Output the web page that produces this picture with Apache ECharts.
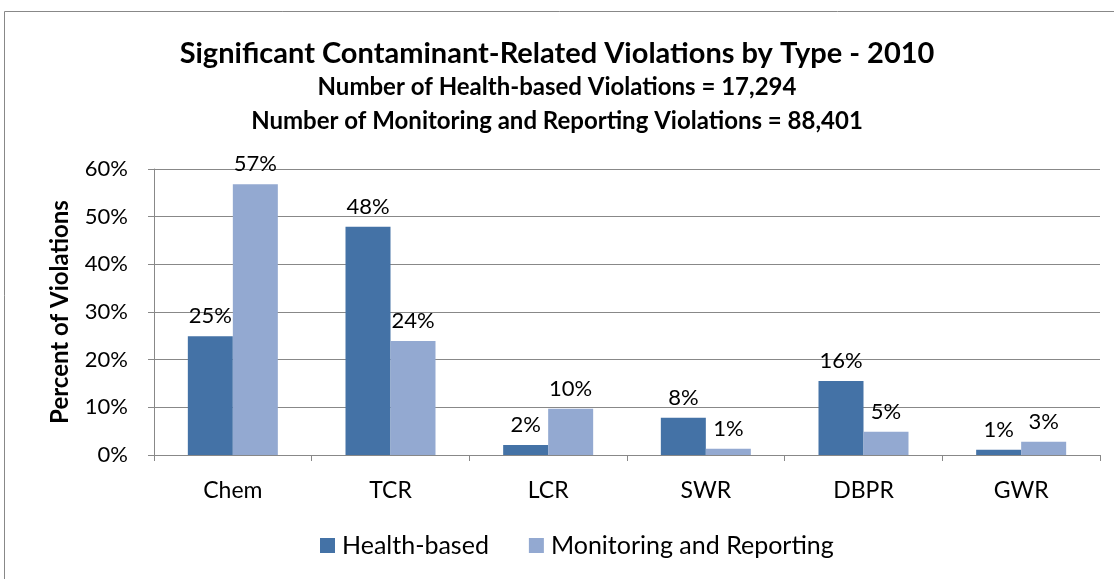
<!DOCTYPE html>
<html>
<head>
<meta charset="utf-8">
<script src="https://cdn.jsdelivr.net/npm/echarts@6/dist/echarts.min.js"></script>
<style>
  html, body { margin: 0; padding: 0; background: #fff; }
  #chart { width: 1114px; height: 579px; }
</style>
</head>
<body>
<div id="chart"></div>
<script>
// violation types
var categories = ['Chem', 'TCR', 'LCR', 'SWR', 'DBPR', 'GWR']
// percent of violations
var healthBased = [24.9, 47.9, 2.1, 7.8, 15.5, 1.1]
var monitoring = [56.8, 23.9, 9.7, 1.3, 4.9, 2.8]
var seriesNames = ['Health-based', 'Monitoring and Reporting']
var titleText = 'Significant Contaminant-Related Violations by Type - 2010'
var subLines = [
  'Number of Health-based Violations = 17,294',
  'Number of Monitoring and Reporting Violations = 88,401'
]

var font = 'Lato'
var chart = echarts.init(document.getElementById('chart'))

var barLabel = {
  show: true,
  position: 'top',
  distance: 9,
  fontFamily: font,
  fontSize: 22,
  color: '#000',
  formatter: function (p) { return Math.round(p.value) + '%' }
}

// 标题 + 两行副标题，分开定位
var titles = [
  { text: titleText, left: 'center', top: 34,
    textStyle: { fontFamily: font, fontSize: 29, fontWeight: 'bold', color: '#000' } },
  { text: subLines[0], left: 'center', top: 70,
    textStyle: { fontFamily: font, fontSize: 24, fontWeight: 'bold', color: '#000' } },
  { text: subLines[1], left: 'center', top: 104,
    textStyle: { fontFamily: font, fontSize: 24, fontWeight: 'bold', color: '#000' } }
]

chart.setOption({
  animation: false,
  color: ['#4472A6', '#93A9D1'],
  title: titles,
  legend: {
    bottom: 16,
    left: 315,
    itemWidth: 15,
    itemHeight: 15,
    itemGap: 40,
    icon: 'rect',
    textStyle: { fontFamily: font, fontSize: 25, color: '#000', padding: [0, 0, 0, 2] },
    data: seriesNames
  },
  grid: { left: 154, right: 14, top: 169, bottom: 124 },
  xAxis: {
    type: 'category',
    data: categories,
    axisLine: { lineStyle: { color: '#888', width: 1 } },
    axisTick: { show: true, length: 6, lineStyle: { color: '#888' } },
    axisLabel: { fontFamily: font, fontSize: 23, color: '#000', margin: 24 }
  },
  yAxis: {
    type: 'value',
    min: 0,
    max: 60,
    interval: 10,
    name: 'Percent of Violations',
    nameLocation: 'middle',
    nameGap: 82,
    nameTextStyle: { fontFamily: font, fontSize: 24, fontWeight: 'bold', color: '#000' },
    axisLine: { show: true, lineStyle: { color: '#888' } },
    axisTick: { show: true, length: 6, lineStyle: { color: '#888' } },
    axisLabel: { fontFamily: font, fontSize: 22, color: '#000', margin: 26, formatter: '{value}%' },
    splitLine: { lineStyle: { color: '#888', width: 1 } }
  },
  series: [
    { name: seriesNames[0], type: 'bar', data: healthBased, barWidth: 45, barGap: '0%', label: barLabel },
    { name: seriesNames[1], type: 'bar', data: monitoring, barWidth: 45, barGap: '0%', label: barLabel }
  ],
  graphic: [{
    type: 'rect',
    shape: { x: 4.5, y: 11.5, width: 1200, height: 700 },
    style: { fill: 'none', stroke: '#888', lineWidth: 1 },
    silent: true
  }]
})
</script>
</body>
</html>
